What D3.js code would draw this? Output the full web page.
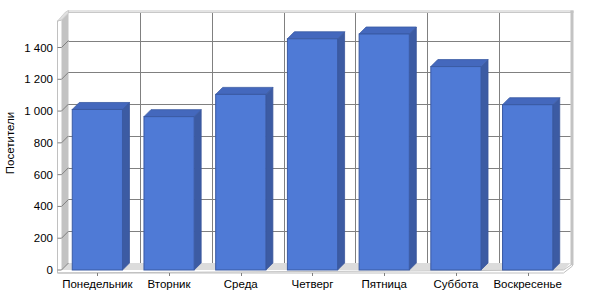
<!DOCTYPE html>
<html>
<head>
<meta charset="utf-8">
<script src="https://cdn.jsdelivr.net/npm/d3@7"></script>
<style>
	body { margin: 0; background: #fff; }
	text { font-family: 'Liberation Sans', Arial, sans-serif; font-size: 11.5px; fill: #000; }
</style>
</head>
<body>
<svg id="chart" width="600" height="300"></svg>
<script>
// Visitors per weekday, 3D column chart
var days = ['Понедельник', 'Вторник', 'Среда', 'Четверг', 'Пятница', 'Суббота', 'Воскресенье'];
var visitors = [1010, 965, 1105, 1455, 1485, 1280, 1040];
var yTicks = [0, 200, 400, 600, 800, 1000, 1200, 1400];
var yTitle = 'Посетители';

var svg = d3.select('#chart');

// depth of the 3d box
var dx = 7, dy = -7;
var left = 61.5, right = 563.5, bottom = 270, plotTop = 20;

var x = d3.scaleBand()
		.domain(days)
		.range([left, right])
		.paddingInner(0.3)
		.paddingOuter(0.15);

var xCat = d3.scaleBand()
		.domain(days)
		.range([left, right]);

var y = d3.scaleLinear()
		.domain([0, 1400])
		.range([bottom, 47.5]);

var fmt = function (v) {
	return d3.format(',')(v).replace(',', ' ');
};

function poly(pts) {
	return 'M' + pts.map(function (p) { return p[0] + ',' + p[1]; }).join('L') + 'Z';
}

// back wall
svg.append('rect')
		.attr('x', left + dx)
		.attr('y', plotTop + dy)
		.attr('width', right - left)
		.attr('height', bottom - plotTop)
		.style('fill', '#fff');

// left wall (gray side)
svg.append('path')
		.attr('d', poly([[left, plotTop], [left + dx, plotTop + dy], [left + dx, bottom + dy], [left, bottom]]))
		.style('fill', '#c3c3c3');

// left wall front edge
svg.append('path')
		.attr('d', 'M' + (left - 4) + ',' + (bottom + 3) + 'L' + (left - 4) + ',' + (plotTop + 1) + 'L' + left + ',' + plotTop)
		.style('fill', 'none')
		.style('stroke', '#c0c0c0');

// floor top
svg.append('path')
		.attr('d', poly([[left, bottom], [left + dx, bottom + dy], [right + dx, bottom + dy], [right, bottom]]))
		.style('fill', '#dcdcdc');

// floor front edge + right side
svg.append('path')
		.attr('d', poly([[left - 4, bottom + 3], [right, bottom + 3], [right + dx + 2, bottom + dy + 3], [right + dx + 2, bottom + dy + 1], [right, bottom]]))
		.style('fill', '#fff')
		.style('stroke', '#c0c0c0');

// top edge and right edge of back wall
svg.append('rect')
		.attr('x', left + dx - 1)
		.attr('y', plotTop + dy - 2.5)
		.attr('width', right - left + 4)
		.attr('height', 2.5)
		.style('fill', '#c8c8c8');
svg.append('line')
		.attr('x1', left + dx).attr('x2', right + dx)
		.attr('y1', plotTop + dy - 1.5).attr('y2', plotTop + dy - 1.5)
		.style('stroke', '#e4e4e4');
svg.append('rect')
		.attr('x', right + dx)
		.attr('y', plotTop + dy - 2.5)
		.attr('width', 3)
		.attr('height', bottom - plotTop + 4.5)
		.style('fill', '#c3c3c3');

// top of left wall
svg.append('path')
		.attr('d', poly([[left - 4, plotTop + 1], [left + dx - 3, plotTop + dy - 1], [left + dx, plotTop + dy - 2.5], [left + dx, plotTop + dy], [left, plotTop]]))
		.style('fill', '#e0e0e0')
		.style('stroke', '#c0c0c0')
		.style('stroke-width', 0.6);

// horizontal grid on back wall
var grid = svg.append('g');
grid.selectAll('.hgrid')
		.data(yTicks.slice(1))
		.enter()
		.append('line')
		.attr('x1', left + dx)
		.attr('x2', right + dx)
		.attr('y1', function (d) { return Math.round(y(d) + dy) + 0.5; })
		.attr('y2', function (d) { return Math.round(y(d) + dy) + 0.5; })
		.style('stroke', '#808080');

// slanted grid on left wall + ticks
grid.selectAll('.lgrid')
		.data(yTicks)
		.enter()
		.append('path')
		.attr('d', function (d) {
			var yy = y(d);
			return 'M' + (left - 4) + ',' + yy + 'L' + left + ',' + yy + 'L' + (left + dx) + ',' + (yy + dy);
		})
		.style('fill', 'none')
		.style('stroke', '#808080');

// vertical grid on back wall
grid.selectAll('.vgrid')
		.data(days.slice(1))
		.enter()
		.append('line')
		.attr('x1', function (d) { return Math.round(xCat(d) + dx) + 0.5; })
		.attr('x2', function (d) { return Math.round(xCat(d) + dx) + 0.5; })
		.attr('y1', plotTop + dy)
		.attr('y2', bottom + dy)
		.style('stroke', '#808080');

// bars
var bars = svg.selectAll('.bar')
		.data(days)
		.enter()
		.append('g');

bars.append('path') // side
		.attr('d', function (d, i) {
			var x1 = x(d) + x.bandwidth(), yt = y(visitors[i]);
			return poly([[x1, yt], [x1 + dx, yt + dy], [x1 + dx, bottom + dy], [x1, bottom]]);
		})
		.style('fill', '#3c5ba3')
		.style('stroke', '#3a569b')
		.style('stroke-width', 0.8);

bars.append('path') // top
		.attr('d', function (d, i) {
			var x0 = x(d), x1 = x0 + x.bandwidth(), yt = y(visitors[i]);
			return poly([[x0, yt], [x0 + dx, yt + dy], [x1 + dx, yt + dy], [x1, yt]]);
		})
		.style('fill', '#4468bd')
		.style('stroke', '#3a5aa3')
		.style('stroke-width', 0.8);

bars.append('rect') // front
		.attr('x', function (d) { return x(d); })
		.attr('y', function (d, i) { return y(visitors[i]); })
		.attr('width', x.bandwidth())
		.attr('height', function (d, i) { return bottom - y(visitors[i]); })
		.style('fill', '#4f7ad6')
		.style('stroke', '#3a5aa3')
		.style('stroke-width', 1);

// x axis ticks and labels
var xaxis = svg.append('g');
xaxis.selectAll('line')
		.data(days)
		.enter()
		.append('line')
		.attr('x1', function (d) { return Math.round(xCat(d) + xCat.bandwidth() / 2) + 0.5; })
		.attr('x2', function (d) { return Math.round(xCat(d) + xCat.bandwidth() / 2) + 0.5; })
		.attr('y1', bottom + 3)
		.attr('y2', bottom + 6)
		.style('stroke', '#808080');

xaxis.selectAll('text')
		.data(days)
		.enter()
		.append('text')
		.attr('x', function (d) { return xCat(d) + xCat.bandwidth() / 2; })
		.attr('y', 288)
		.attr('text-anchor', 'middle')
		.text(function (d) { return d; });

// y axis labels
svg.append('g').selectAll('text')
		.data(yTicks)
		.enter()
		.append('text')
		.attr('x', 53)
		.attr('y', function (d) { return y(d) + 4; })
		.attr('text-anchor', 'end')
		.text(fmt);

// y title
svg.append('text')
		.attr('transform', 'translate(14,143) rotate(-90)')
		.attr('text-anchor', 'middle')
		.text(yTitle);
</script>
</body>
</html>
